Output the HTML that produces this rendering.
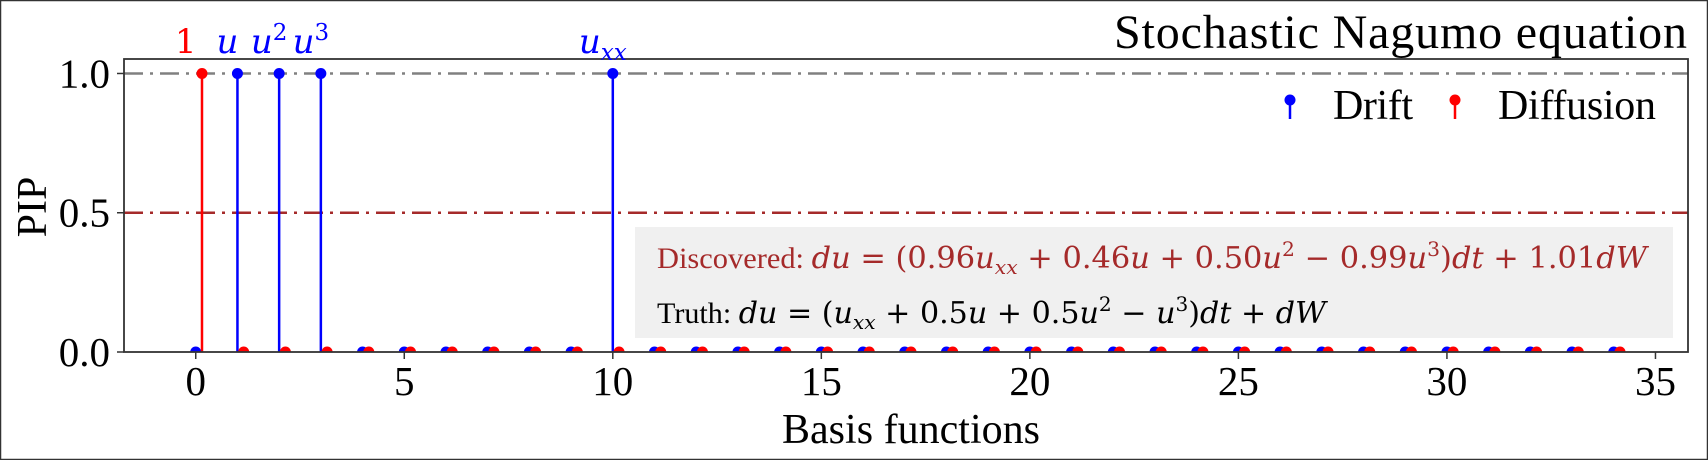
<!DOCTYPE html>
<html><head><meta charset="utf-8"><style>
html,body{margin:0;padding:0;background:#fff;}
svg{display:block;}
.serif{font-family:"Liberation Serif","Times New Roman",serif;}
.math{font-family:"DejaVu Serif",serif;font-style:italic;}
.mr{font-family:"DejaVu Serif",serif;}
</style></head><body>
<svg id="chart" width="1708" height="460" viewBox="0 0 1708 460" xmlns="http://www.w3.org/2000/svg">
<rect x="0.5" y="0.5" width="1707" height="459" fill="#fff" stroke="#333" stroke-width="1.5"/>
<text class="serif" x="1687" y="48" font-size="48" text-anchor="end" textLength="573">Stochastic Nagumo equation</text>
<g id="plot"></g>
<rect x="635" y="227" width="1038" height="111" fill="#f0f0f0"/>
<text x="657" y="268" font-size="30" fill="#a52a2a" textLength="990" lengthAdjust="spacingAndGlyphs"><tspan class="serif">Discovered: </tspan><tspan class="math">du</tspan><tspan class="mr"> = (0.96</tspan><tspan class="math">u<tspan font-size="20" dy="6">xx</tspan></tspan><tspan class="mr" dy="-6"> + 0.46</tspan><tspan class="math">u</tspan><tspan class="mr"> + 0.50</tspan><tspan class="math">u</tspan><tspan class="mr" font-size="20" dy="-12">2</tspan><tspan class="mr" dy="12"> − 0.99</tspan><tspan class="math">u</tspan><tspan class="mr" font-size="20" dy="-12">3</tspan><tspan class="mr" dy="12">)</tspan><tspan class="math">dt</tspan><tspan class="mr"> + 1.01</tspan><tspan class="math">dW</tspan></text>
<text x="657" y="323" font-size="30" fill="#000" textLength="669" lengthAdjust="spacingAndGlyphs"><tspan class="serif">Truth: </tspan><tspan class="math">du</tspan><tspan class="mr"> = (</tspan><tspan class="math">u<tspan font-size="20" dy="6">xx</tspan></tspan><tspan class="mr" dy="-6"> + 0.5</tspan><tspan class="math">u</tspan><tspan class="mr"> + 0.5</tspan><tspan class="math">u</tspan><tspan class="mr" font-size="20" dy="-12">2</tspan><tspan class="mr" dy="12"> − </tspan><tspan class="math">u</tspan><tspan class="mr" font-size="20" dy="-12">3</tspan><tspan class="mr" dy="12">)</tspan><tspan class="math">dt</tspan><tspan class="mr"> + </tspan><tspan class="math">dW</tspan></text>
<g>
<line x1="1290" y1="100" x2="1290" y2="119" stroke="#0000ff" stroke-width="2.5"/>
<circle cx="1290" cy="100" r="5.5" fill="#0000ff"/>
<text class="serif" x="1333" y="119" font-size="42" textLength="80">Drift</text>
<line x1="1455" y1="100" x2="1455" y2="119" stroke="#ff0000" stroke-width="2.5"/>
<circle cx="1455" cy="100" r="5.5" fill="#ff0000"/>
<text class="serif" x="1498" y="119" font-size="42" textLength="158">Diffusion</text>
</g>
<text class="serif" x="911" y="443" font-size="42" text-anchor="middle" textLength="258">Basis functions</text>
<text class="serif" x="46" y="207" font-size="42" text-anchor="middle" transform="rotate(-90 46 207)">PIP</text>
</svg>
<script>
const basisIndex = Array.from({length: 35}, (_, i) => i);
const driftPIP = [0,1,1,1,0,0,0,0,0,0,1,0,0,0,0,0,0,0,0,0,0,0,0,0,0,0,0,0,0,0,0,0,0,0,0];
const diffusionPIP = [1,0,0,0,0,0,0,0,0,0,0,0,0,0,0,0,0,0,0,0,0,0,0,0,0,0,0,0,0,0,0,0,0,0,0];
const xTicks = [0,5,10,15,20,25,30,35];
const yTicks = [0.0,0.5,1.0];
const yTickLabels = ["0.0","0.5","1.0"];
const termLabels = [{i:0, series:"diffusion", text:"1"},{i:1, series:"drift", text:"u"},{i:2, series:"drift", text:"u", sup:"2"},{i:3, series:"drift", text:"u", sup:"3"},{i:10, series:"drift", text:"u", sub:"xx"}];

const L=124, R=1688, T=59, B=352;
const xmin=-1.72, xmax=35.78, ymin=0, ymax=1.052;
const xs = v => L + (v - xmin) / (xmax - xmin) * (R - L);
const ys = v => B - (v - ymin) / (ymax - ymin) * (B - T);
const NS = "http://www.w3.org/2000/svg";
const g = document.getElementById('plot');
function mk(tag, attrs, parent){ const e=document.createElementNS(NS,tag); for(const k in attrs) e.setAttribute(k,attrs[k]); (parent||g).appendChild(e); return e; }

const defs = mk('defs',{});
const cp = mk('clipPath',{id:'axclip'},defs);
mk('rect',{x:L,y:T,width:R-L,height:B-T},cp);

const l1 = mk('line',{x1:L,x2:R,y1:ys(1),y2:ys(1),stroke:'#808080','stroke-width':2.5,'stroke-dasharray':'19 7 3 7'});


const l2 = mk('line',{x1:L,x2:R,y1:ys(0.5),y2:ys(0.5),stroke:'#a52a2a','stroke-width':2.5,'stroke-dasharray':'19 7 3 7'});



const marks = mk('g',{'clip-path':'url(#axclip)'});
function series(vals, off, color, name){
  basisIndex.forEach((b,k)=>{
    const x = xs(b+off), y = ys(vals[k]);
    if (vals[k] > 0) {
      const s = mk('line',{x1:x,x2:x,y1:ys(0),y2:y,stroke:color,'stroke-width':2.5},marks);
      
      
    }
    const c = mk('circle',{cx:x,cy:y,r:5.5,fill:color},marks);
    
    
  });
}
series(driftPIP, 0, '#0000ff', 'drift');
series(diffusionPIP, 0.15, '#ff0000', 'diffusion');

const fr = mk('rect',{x:L,y:T,width:R-L,height:B-T,fill:'none',stroke:'#333','stroke-width':1.8});



xTicks.forEach(t=>{
  const x=xs(t);
  mk('line',{x1:x,x2:x,y1:B,y2:B+7,stroke:'#333','stroke-width':1.5});
  const tx = mk('text',{x:x,y:395,'font-size':41,'text-anchor':'middle','class':'serif'});
  tx.textContent = String(t);
  
  
});
yTicks.forEach((t,k)=>{
  const y=ys(t);
  mk('line',{x1:L-7,x2:L,y1:y,y2:y,stroke:'#333','stroke-width':1.5});
  const tx = mk('text',{x:110,y:y+14,'font-size':41,'text-anchor':'end','class':'serif'});
  tx.textContent = yTickLabels[k];
  
  
});

termLabels.forEach(tl=>{
  const color = tl.series==='drift' ? '#0000ff' : '#ff0000';
  const x = xs(tl.i) - 10;
  const t = mk('text',{x:x,y:53,'font-size':34,fill:color,'text-anchor':'middle','font-family':'DejaVu Serif'});
  if (tl.text==='1') { t.textContent='1'; }
  else {
    const m = mk('tspan',{'font-style':'italic'},t); m.textContent = tl.text;
    if (tl.sup) { const s=mk('tspan',{'font-size':23,dy:-13},t); s.textContent=tl.sup; }
    if (tl.sub) { const s=mk('tspan',{'font-size':23,dy:7,'font-style':'italic'},t); s.textContent=tl.sub; }
  }
  
  
});
</script>
</body></html>
